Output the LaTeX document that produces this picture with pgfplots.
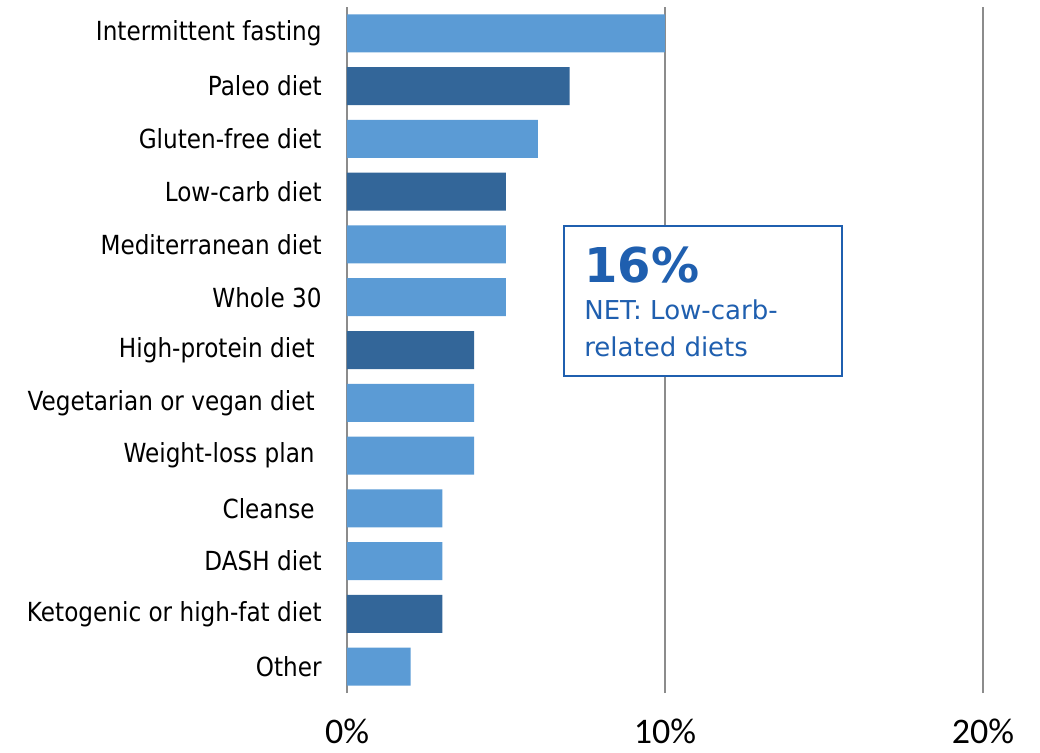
\documentclass[border=0pt]{standalone}
\usepackage{fontspec}
\setmainfont{DejaVu Sans}
\newfontfamily\catfont{DejaVu Sans}[FakeStretch=0.88]
\newfontfamily\tickfont{Carlito}
\usepackage{pgfplots}
\pgfplotsset{compat=1.18}
\definecolor{lightbar}{HTML}{5B9BD5}
\definecolor{darkbar}{HTML}{336699}
\definecolor{boxblue}{HTML}{1F5FAF}
\definecolor{gridgray}{HTML}{8C8C8C}
\begin{document}
\begin{tikzpicture}
\begin{axis}[
    scale only axis,
    width=318pt, height=343pt,
    xbar, bar width=19pt, bar shift=0pt,
    xmin=0, xmax=20, ymin=-0.5, ymax=12.5,
    clip=false,
    axis line style={draw=none},
    major tick length=0pt,
    xmajorgrids, major grid style={gridgray, line width=0.7pt},
    xtick={0,10,20},
    xticklabels={0\%,10\%,20\%},
    xticklabel style={font=\tickfont\fontsize{18}{20}\selectfont, inner sep=0pt, yshift=-13pt},
    ytick={0,...,12},
    yticklabels={Other, Ketogenic or high-fat diet, DASH diet, Cleanse\kern3.5pt,
      Weight-loss plan\kern3.5pt, Vegetarian or vegan diet\kern3.5pt,
      High-protein diet\kern3.5pt, Whole 30, Mediterranean diet, Low-carb diet,
      Gluten-free diet, Paleo diet, Intermittent fasting},
    yticklabel style={font=\catfont\fontsize{13.15}{15}\selectfont, inner sep=0pt, xshift=-12.5pt, anchor=east},
]
% light bars
\addplot[fill=lightbar, draw=none] coordinates {
  (10,12) (6,10) (5,8) (5,7) (4,5) (4,4) (3,3) (3,2) (2,0)};
% dark bars (low-carb related)
\addplot[fill=darkbar, draw=none] coordinates {
  (7,11) (5,9) (4,6) (3,1)};

\draw[boxblue, line width=1pt, fill=white] (axis cs:6.82,8.35) rectangle (axis cs:15.57,5.51);
\node[anchor=base west, inner sep=0pt, text=boxblue, font=\bfseries\fontsize{24}{26}\selectfont] at (axis cs:7.45,7.27) {16\%};
\node[anchor=base west, inner sep=0pt, text=boxblue, font=\fontsize{13}{15}\selectfont] at (axis cs:7.45,6.57) {NET: Low-carb-};
\node[anchor=base west, inner sep=0pt, text=boxblue, font=\fontsize{13}{15}\selectfont] at (axis cs:7.45,5.87) {related diets};
\end{axis}
\pgfresetboundingbox
\path (current axis.south west) ++(-173.5pt,-29.5pt) rectangle ++(520pt,376pt);
\end{tikzpicture}
\end{document}
